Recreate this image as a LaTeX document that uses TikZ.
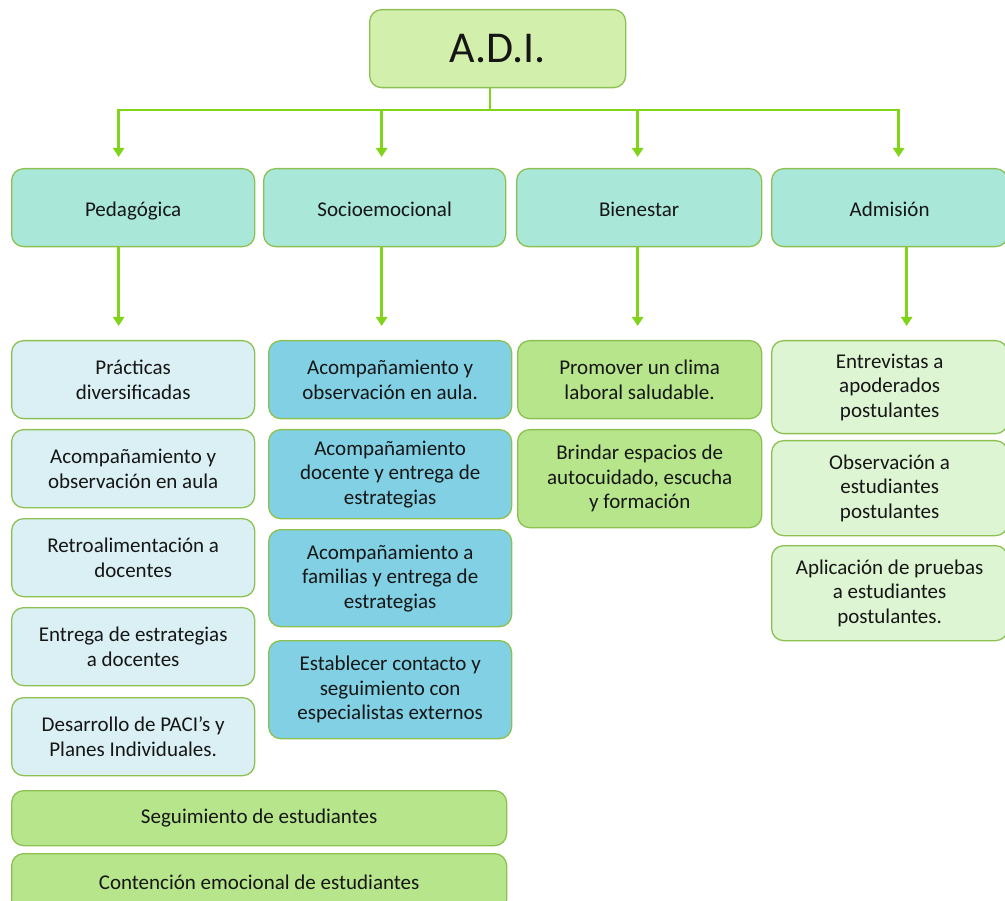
\documentclass[tikz,border=0pt]{standalone}
\usepackage{fontspec}
\setmainfont{Carlito}
\usetikzlibrary{
  arrows.meta,
  positioning,
}
\definecolor{boxline}{HTML}{8CC152}
\definecolor{linkgreen}{HTML}{80D41A}
\definecolor{textgray}{HTML}{161616}
\definecolor{topfill}{HTML}{D3EFAC}
\definecolor{catfill}{HTML}{A9E7D9}
\definecolor{pedfill}{HTML}{DAF0F5}
\definecolor{socfill}{HTML}{82D0E3}
\definecolor{bienfill}{HTML}{B7E58B}
\definecolor{admfill}{HTML}{DDF5D2}
\tikzset{
  >={Triangle[width=11pt,length=9pt]},
}

\begin{document}
\begin{tikzpicture}[
        x=1pt, y=-1pt,
        every node/.style={draw=boxline, line width=1.3pt, align=center,
          rounded corners=12pt, anchor=north west, inner sep=2pt,
          text=textgray, font=\fontsize{21}{24.5}\selectfont,
          minimum width=243pt, minimum height=78pt},
        cat/.style={fill=catfill, text height=19pt, text depth=2pt},
        link/.style={draw=linkgreen, line width=2.6pt, ->},
      ]
      \useasboundingbox (0,0) rectangle (1005,901);

      % top
      \node (adi) [fill=topfill, minimum width=256pt, font=\fontsize{44}{48}\selectfont]
        at (369,9) {A.D.I.};

      % categories
      \node (ped) [cat] at (11,168) {Pedagógica};
      \node (soc) [cat, minimum width=242pt] at (263,168) {Socioemocional};
      \node (bien) [cat, minimum width=245pt] at (516,168) {Bienestar};
      \node (adm) [cat, minimum width=236pt] at (771,168) {Admisión};

      % Pedagógica
      \node (ped1) [fill=pedfill] at (11,340) {Prácticas\\ diversificadas};
      \node (ped2) [fill=pedfill] at (11,429) {Acompañamiento y\\ observación en aula};
      \node (ped3) [fill=pedfill] at (11,518) {Retroalimentación a\\ docentes};
      \node (ped4) [fill=pedfill] at (11,607) {Entrega de estrategias\\ a docentes};
      \node (ped5) [fill=pedfill] at (11,697) {Desarrollo de PACI’s y\\ Planes Individuales.};

      % Socioemocional
      \node (soc1) [fill=socfill] at (268,340) {Acompañamiento y\\ observación en aula.};
      \node (soc2) [fill=socfill, minimum height=89pt] at (268,429)
        {Acompañamiento\\ docente y entrega de\\ estrategias};
      \node (soc3) [fill=socfill, minimum height=97pt] at (268,529)
        {Acompañamiento a\\ familias y entrega de\\ estrategias};
      \node (soc4) [fill=socfill, minimum height=98pt] at (268,640)
        {Establecer contacto y\\ seguimiento con\\ especialistas externos};

      % Bienestar
      \node (bien1) [fill=bienfill, minimum width=244pt] at (517,340)
        {Promover un clima\\ laboral saludable.};
      \node (bien2) [fill=bienfill, minimum width=244pt, minimum height=98pt] at (517,429)
        {Brindar espacios de\\ autocuidado, escucha\\ y formación};

      % Admisión
      \node (adm1) [fill=admfill, minimum width=236pt, minimum height=93pt] at (771,340)
        {Entrevistas a\\ apoderados\\ postulantes};
      \node (adm2) [fill=admfill, minimum width=236pt, minimum height=95pt] at (771,440)
        {Observación a\\ estudiantes\\ postulantes};
      \node (adm3) [fill=admfill, minimum width=236pt, minimum height=95pt] at (771,545)
        {Aplicación de pruebas\\ a estudiantes\\ postulantes.};

      % bottom
      \node (seg) [fill=bienfill, minimum width=495pt, minimum height=55pt] at (11,790)
        {Seguimiento de estudiantes};
      \node (cont) [fill=bienfill, minimum width=495pt, minimum height=58pt] at (11,853)
        {Contención emocional de estudiantes};

      \coordinate (bus) at (490,110);
      \draw[link, -] (adi.south -| bus) -- (bus);
      \draw[link, shorten >=11pt] (bus) -| ([xshift=-14.5pt]ped.north);
      \draw[link, shorten >=11pt] (bus) -| ([xshift=-3pt]soc.north);
      \draw[link, shorten >=11pt] (bus) -| ([xshift=-1.5pt]bien.north);
      \draw[link, shorten >=11pt] (bus) -| ([xshift=9pt]adm.north);

      \draw[link, shorten >=14pt] ([xshift=-14.5pt]ped.south) -- ([xshift=-14.5pt]ped1.north);
      \draw[link, shorten >=14pt] ([xshift=-3pt]soc.south) -- ([xshift=-3pt]soc.south |- soc1.north);
      \draw[link, shorten >=14pt] ([xshift=-1.5pt]bien.south) -- ([xshift=-1.5pt]bien.south |- bien1.north);
      \draw[link, shorten >=14pt] ([xshift=17pt]adm.south) -- ([xshift=17pt]adm.south |- adm1.north);
    \end{tikzpicture}
\end{document}
